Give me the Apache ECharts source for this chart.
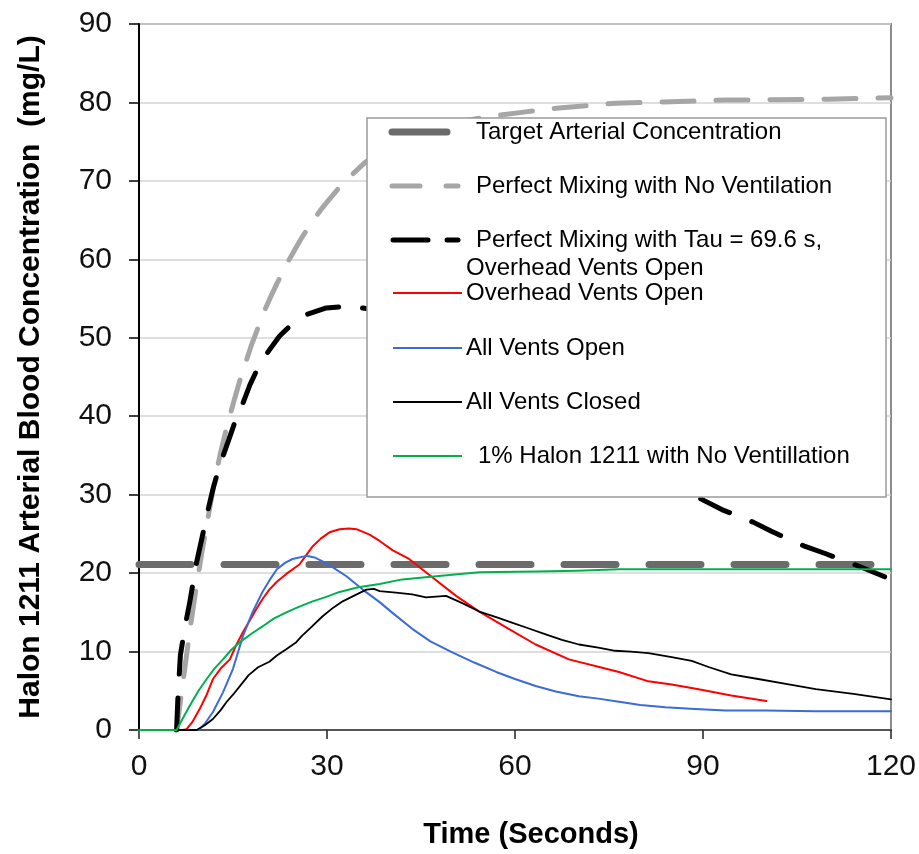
<!DOCTYPE html>
<html>
<head>
<meta charset="utf-8">
<script src="https://cdn.jsdelivr.net/npm/echarts@6/dist/echarts.min.js"></script>
<style>
html,body{margin:0;padding:0;background:#fff;}
#chart{width:919px;height:854px;}
</style>
</head>
<body>
<div id="chart"></div>
<script>
// ---- data ----
var xTicks = [0, 30, 60, 90, 120];
var yTicks = [0, 10, 20, 30, 40, 50, 60, 70, 80, 90];

var seriesNames = [
  'Target Arterial Concentration',
  'Perfect Mixing with No Ventilation',
  'Perfect Mixing with Tau = 69.6 s,\nOverhead Vents Open',
  'Overhead Vents Open',
  'All Vents Open',
  'All Vents Closed',
  '1% Halon 1211 with No Ventillation'
];

var targetConc = [[0, 21.1], [120, 21.1]];

var mixNoVent = [[6,0],[6.5,3],[7,6],[8,12],[9,17.5],[10,22.5],[11,27],[12,31.5],[13,35.3],[14,38.6],
  [15,41.5],[16,44.3],[17,46.8],[18,49.2],[19,51.3],[20,53.4],[21,55.2],[22,56.9],[23,58.4],[24,60],
  [25,61.4],[26,62.8],[27,64],[28,65.2],[29,66.3],[30,67.3],[32,69.2],[34,70.8],[36,72.3],[40,74.5],
  [45,76.3],[50,77.4],[55.9,78.2],[61.7,78.8],[67,79.3],[76,79.9],[85,80.1],[93.6,80.3],[110,80.4],[120,80.6]];

var mixTau = [[6,0],[6.2,4],[6.6,9.5],[7.3,13],[8.1,16.3],[9.2,21.4],[10,24.3],[11,28],[11.8,30.7],[12.6,33],
  [13.4,34.9],[14.5,37.4],[15.5,39.7],[16.6,41.7],[17.7,44],[19,46.2],[20.5,48.1],[22.4,50.2],[24.5,51.8],
  [26.9,53],[29.9,53.8],[33,54],[35.7,53.8],[40,53.3],[45,52],[50,50.2],[55,47.9],[60,45.2],[65,42.2],
  [70,39.2],[75,36.4],[80,33.8],[85,31.5],[89.8,29.4],[93,28.1],[98,26.5],[101,25.3],[106.3,23.4],
  [109.5,22.5],[114.8,20.9],[120,19.2]];

var overheadOpen = [[0,0],[7,0],[7.6,0.1],[8.5,1],[9.7,2.7],[10.8,4.5],[11.8,6.5],[13,7.8],[14.5,9],[15.5,10.8],
  [16.6,12.5],[17.7,14],[18.7,15.4],[19.8,16.8],[20.8,17.9],[22,18.9],[23.5,19.9],[25.6,21.1],[26.6,22.2],
  [27.7,23.4],[29,24.4],[30.4,25.2],[32,25.6],[33.5,25.7],[34.7,25.6],[36.8,24.9],[38.4,24.1],[40.5,22.9],
  [43.1,21.8],[46.6,19.6],[50.6,17.1],[54.3,15.1],[59,12.9],[63.3,10.9],[68.6,9],[73.6,8],[76.6,7.4],
  [81.3,6.2],[85,5.8],[89.3,5.2],[94.5,4.4],[100.1,3.7]];

var allOpen = [[0,0],[9.5,0],[10.5,0.8],[11.8,2.3],[13.4,4.8],[15,7.8],[16.6,12],[18.1,15],[19.7,17.6],[21,19.3],
  [22,20.5],[23.3,21.3],[24.5,21.8],[26.7,22.2],[28,22],[29.3,21.5],[31,20.7],[33.1,19.6],[35.7,17.9],
  [38.4,16.3],[40.5,14.9],[43.6,12.9],[46.5,11.3],[50,9.9],[53.5,8.6],[57,7.4],[60,6.5],[63.3,5.6],
  [66.5,4.9],[70.2,4.3],[73.3,4],[76.6,3.6],[80,3.2],[84,2.9],[88,2.7],[93.6,2.5],[100,2.5],[108,2.4],[120,2.4]];

var allClosed = [[0,0],[9.2,0],[10.5,0.6],[11.8,1.4],[13,2.5],[14,3.6],[15,4.5],[16.1,5.6],[17.5,7],[19,8],
  [20.8,8.7],[22,9.5],[23.5,10.3],[25.1,11.2],[26,12],[27.2,12.9],[29.3,14.5],[31,15.6],[32.5,16.4],
  [34.5,17.2],[36.3,17.9],[37.5,18],[38.4,17.7],[41,17.5],[43.6,17.3],[45.8,16.9],[49,17.1],[51.5,16.2],
  [54.3,15.1],[57,14.4],[59.5,13.7],[62,13],[64.9,12.2],[67.5,11.5],[70.2,10.9],[73.3,10.5],[76,10.1],
  [78.5,10],[81.3,9.8],[85,9.3],[88.2,8.8],[91,8],[94.5,7.1],[98.8,6.5],[103,5.9],[108,5.2],[114,4.6],[120,3.9]];

var halonNoVent = [[0,0],[6,0],[7,1.5],[8.1,3.1],[9.5,5],[10.8,6.5],[12,7.8],[13.4,9],[14.7,10.2],[16.1,11.2],
  [18,12.3],[19.7,13.2],[21.5,14.2],[23.5,15],[25.5,15.7],[27.7,16.4],[30,17],[32,17.6],[35,18.2],
  [38.4,18.6],[42,19.2],[47.4,19.6],[54.3,20.1],[63.3,20.2],[70,20.3],[76.6,20.5],[90,20.5],[100,20.5],
  [110,20.5],[120,20.5]];

// ---- styling ----
var FONT = '"Liberation Sans", Arial, sans-serif';
var cTarget = '#6b6b6b', cGray = '#a6a6a6', cBlack = '#000000',
    cRed = '#ff0000', cBlue = '#3a6bd6', cGreen = '#00b050';

function lineSeries(name, data, color, width, dash, z) {
  return {
    name: name, type: 'line', data: data, showSymbol: false, symbol: 'none',
    smooth: false, z: z, animation: false,
    lineStyle: { color: color, width: width, type: dash || 'solid', cap: 'round', join: 'round' }
  };
}

// legend drawn as graphic (box with multi-line entry), placed above the plotted lines
var LX = 367, LY = 118, LW = 519, LH = 379;
var legendRows = [132, 186, 240, 293, 348, 402, 456];
var LZ = 100;
var legendEls = [
  { type: 'rect', z: LZ, shape: { x: LX, y: LY, width: LW, height: LH },
    style: { fill: '#fff', stroke: '#9a9a9a', lineWidth: 1.5 } },
  { type: 'line', z: LZ + 1, shape: { x1: 392, y1: legendRows[0], x2: 447, y2: legendRows[0] },
    style: { stroke: cTarget, lineWidth: 7, lineCap: 'round' } },
  { type: 'line', z: LZ + 1, shape: { x1: 392, y1: legendRows[1], x2: 420, y2: legendRows[1] },
    style: { stroke: cGray, lineWidth: 5, lineCap: 'round' } },
  { type: 'line', z: LZ + 1, shape: { x1: 446, y1: legendRows[1], x2: 458, y2: legendRows[1] },
    style: { stroke: cGray, lineWidth: 5, lineCap: 'round' } },
  { type: 'line', z: LZ + 1, shape: { x1: 393, y1: legendRows[2], x2: 428, y2: legendRows[2] },
    style: { stroke: cBlack, lineWidth: 5, lineCap: 'round' } },
  { type: 'line', z: LZ + 1, shape: { x1: 447, y1: legendRows[2], x2: 458, y2: legendRows[2] },
    style: { stroke: cBlack, lineWidth: 5, lineCap: 'round' } },
  { type: 'line', z: LZ + 1, shape: { x1: 393, y1: legendRows[3], x2: 462, y2: legendRows[3] },
    style: { stroke: cRed, lineWidth: 2 } },
  { type: 'line', z: LZ + 1, shape: { x1: 393, y1: legendRows[4], x2: 462, y2: legendRows[4] },
    style: { stroke: cBlue, lineWidth: 2 } },
  { type: 'line', z: LZ + 1, shape: { x1: 393, y1: legendRows[5], x2: 462, y2: legendRows[5] },
    style: { stroke: cBlack, lineWidth: 2 } },
  { type: 'line', z: LZ + 1, shape: { x1: 393, y1: legendRows[6], x2: 462, y2: legendRows[6] },
    style: { stroke: cGreen, lineWidth: 2 } }
];
var legendTextPos = [
  [476, legendRows[0], seriesNames[0]],
  [476, legendRows[1], seriesNames[1]],
  [476, legendRows[2], 'Perfect Mixing with Tau = 69.6 s,'],
  [466, 268, 'Overhead Vents Open'],
  [466, legendRows[3], seriesNames[3]],
  [466, legendRows[4], seriesNames[4]],
  [466, legendRows[5], seriesNames[5]],
  [478, legendRows[6], seriesNames[6]]
];
legendTextPos.forEach(function (t) {
  legendEls.push({ type: 'text', z: LZ + 1, x: t[0], y: t[1],
    style: { text: t[2], fill: '#000', font: '24px ' + FONT, textVerticalAlign: 'middle', textAlign: 'left' } });
});

var chart = echarts.init(document.getElementById('chart'), null, { renderer: 'canvas' });
chart.setOption({
  animation: false,
  backgroundColor: '#ffffff',
  grid: { left: 139, right: 26, top: 24, bottom: 123, show: true,
          borderColor: '#8c8c8c', borderWidth: 2, backgroundColor: 'transparent' },
  xAxis: {
    type: 'value', min: xTicks[0], max: xTicks[xTicks.length - 1], interval: 30,
    name: 'Time (Seconds)', nameLocation: 'middle', nameGap: 90,
    nameTextStyle: { fontFamily: FONT, fontSize: 29, fontWeight: 'bold', color: '#000', padding: [0, 0, 0, 32] },
    axisLine: { show: true, onZero: false, lineStyle: { color: '#555', width: 2 } },
    axisTick: { show: true, inside: false, length: 9, lineStyle: { color: '#222', width: 1.5 } },
    axisLabel: { fontFamily: FONT, fontSize: 30, color: '#111', margin: 22 },
    splitLine: { show: false }
  },
  yAxis: {
    type: 'value', min: yTicks[0], max: yTicks[yTicks.length - 1], interval: 10,
    name: 'Halon 1211 Arterial Blood Concentration  (mg/L)', nameLocation: 'middle', nameGap: 93,
    nameRotate: 90,
    nameTextStyle: { fontFamily: FONT, fontSize: 30, fontWeight: 'bold', color: '#000' },
    axisLine: { show: true, lineStyle: { color: '#000', width: 2 } },
    axisTick: { show: true, inside: false, length: 10, lineStyle: { color: '#000', width: 1.5 } },
    axisLabel: { fontFamily: FONT, fontSize: 30, color: '#111', margin: 27 },
    splitLine: { show: true, lineStyle: { color: '#d4d4d4', width: 1.5 } }
  },
  series: [
    lineSeries(seriesNames[0], targetConc, cTarget, 7, [52, 33], 2),
    lineSeries(seriesNames[1], mixNoVent, cGray, 5, [32, 22], 3),
    lineSeries(seriesNames[2], mixTau, cBlack, 5, [32, 24], 4),
    lineSeries(seriesNames[3], overheadOpen, cRed, 2, null, 5),
    lineSeries(seriesNames[4], allOpen, cBlue, 2, null, 6),
    lineSeries(seriesNames[5], allClosed, cBlack, 1.8, null, 7),
    lineSeries(seriesNames[6], halonNoVent, cGreen, 2, null, 8)
  ],
  graphic: { elements: [{ type: 'group', z: LZ, children: legendEls }] }
});
</script>
</body>
</html>
